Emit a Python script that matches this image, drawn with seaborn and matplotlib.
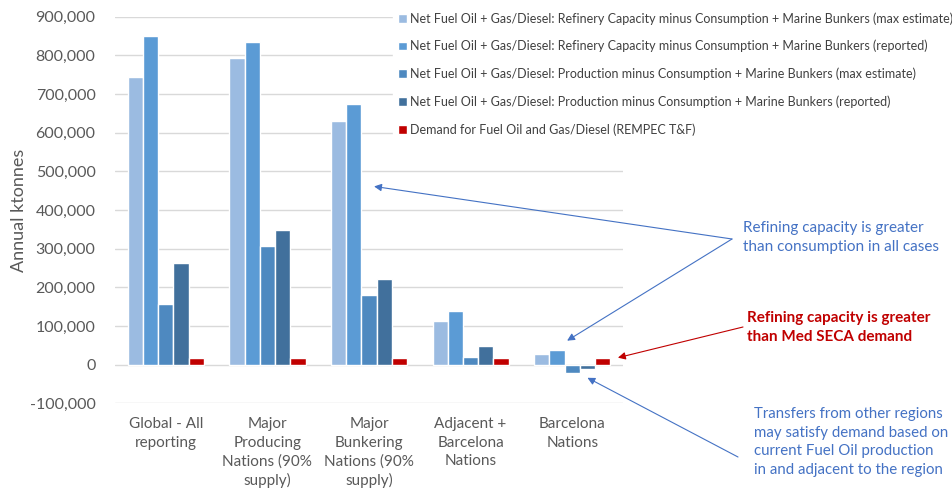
import matplotlib
matplotlib.use("Agg")
import matplotlib.pyplot as plt
import pandas as pd
import seaborn as sns

categories = ["Global - All\nreporting", "Major\nProducing\nNations (90%\nsupply)",
              "Major\nBunkering\nNations (90%\nsupply)", "Adjacent +\nBarcelona\nNations",
              "Barcelona\nNations"]
series = ["Net Fuel Oil + Gas/Diesel: Refinery Capacity minus Consumption + Marine Bunkers (max estimate)",
          "Net Fuel Oil + Gas/Diesel: Refinery Capacity minus Consumption + Marine Bunkers (reported)",
          "Net Fuel Oil + Gas/Diesel: Production minus Consumption + Marine Bunkers (max estimate)",
          "Net Fuel Oil + Gas/Diesel: Production minus Consumption + Marine Bunkers (reported)",
          "Demand for Fuel Oil and Gas/Diesel (REMPEC T&F)"]
refinery_max = [743000, 793000, 630000, 114000, 28000]
refinery_reported = [850000, 834000, 675000, 140000, 37000]
production_max = [157000, 307000, 179000, 21000, -21000]
production_reported = [263000, 349000, 221000, 47000, -12000]
demand = [18000, 18000, 18000, 18000, 18000]
colors = ["#9BBBE1", "#5B9BD5", "#4E89C0", "#41709C", "#C00000"]

rows = []
for name, vals in zip(series, [refinery_max, refinery_reported, production_max,
                               production_reported, demand]):
    for cat, v in zip(categories, vals):
        rows.append({"category": cat, "series": name, "value": v})
df = pd.DataFrame(rows)

sns.set_style("white")
plt.rcParams["font.family"] = ["Lato", "DejaVu Sans"]

fig = plt.figure(figsize=(9.52, 4.93), dpi=100)
ax = fig.add_axes([115 / 952, 1 - 403.3 / 493, 508 / 952, 386.6 / 493])

sns.barplot(data=df, x="category", y="value", hue="series", hue_order=series,
            order=categories, palette=colors, saturation=1, width=0.75,
            errorbar=None, ax=ax, zorder=2)

ax.set_ylim(-100000, 900000)
ax.set_xlim(-0.5, 4.5)
ax.set_yticks(range(-100000, 900001, 100000))
ax.set_yticklabels([f"{v:,}" for v in range(-100000, 900001, 100000)])
ax.yaxis.grid(True, color="#D9D9D9", linewidth=1, zorder=0)
ax.set_axisbelow(True)
for s in ax.spines.values():
    s.set_visible(False)
ax.tick_params(axis="y", length=0, pad=14, labelsize=11.5, labelcolor="#595959")
ax.tick_params(axis="x", length=0, pad=10, labelsize=11, labelcolor="#595959")
for t in ax.get_xticklabels():
    t.set_linespacing(1.4)
ax.set_xlabel("")
ax.set_ylabel("Annual ktonnes", fontsize=13, color="#595959", labelpad=2)

handles, labels = ax.get_legend_handles_labels()
ax.legend_.remove()
leg = fig.legend(handles, labels, loc="upper left", bbox_to_anchor=(393 / 952, 1 - 7 / 493),
                 frameon=True, fontsize=9.0, handlelength=0.7, handleheight=0.7,
                 handletextpad=0.3, labelspacing=1.22, borderpad=0.4, borderaxespad=0)
leg.get_frame().set_facecolor("white")
leg.get_frame().set_edgecolor("white")
leg.get_frame().set_alpha(1)
for t in leg.get_texts():
    t.set_color("#404040")

blue = "#4472C4"
red = "#C00000"
arrow_blue = dict(arrowstyle="-|>", color=blue, lw=0.8, mutation_scale=11, shrinkA=0, shrinkB=0)
arrow_red = dict(arrowstyle="-|>", color=red, lw=0.8, mutation_scale=11, shrinkA=0, shrinkB=0)

fig.text(743 / 952, 1 - 237.5 / 493, "Refining capacity is greater\nthan consumption in all cases",
         color=blue, fontsize=11, va="center", ha="left", linespacing=1.45)
ax.annotate("", xy=(2.05, 461000), xytext=(732, 493 - 239), textcoords="figure pixels",
            arrowprops=arrow_blue)
ax.annotate("", xy=(3.95, 62000), xytext=(732, 493 - 239), textcoords="figure pixels",
            arrowprops=arrow_blue)

fig.text(747 / 952, 1 - 327.5 / 493, "Refining capacity is greater\nthan Med SECA demand",
         color=red, fontsize=11, fontweight="bold", va="center", ha="left", linespacing=1.45)
ax.annotate("", xy=(4.45, 18000), xytext=(743, 493 - 327), textcoords="figure pixels",
            arrowprops=arrow_red)

fig.text(754 / 952, 1 - 442 / 493,
         "Transfers from other regions\nmay satisfy demand based on\ncurrent Fuel Oil production\nin and adjacent to the region",
         color=blue, fontsize=10.8, va="center", ha="left", linespacing=1.4)
ax.annotate("", xy=(4.15, -34000), xytext=(738, 493 - 457), textcoords="figure pixels",
            arrowprops=arrow_blue)

fig.savefig("out.png", dpi=100)
